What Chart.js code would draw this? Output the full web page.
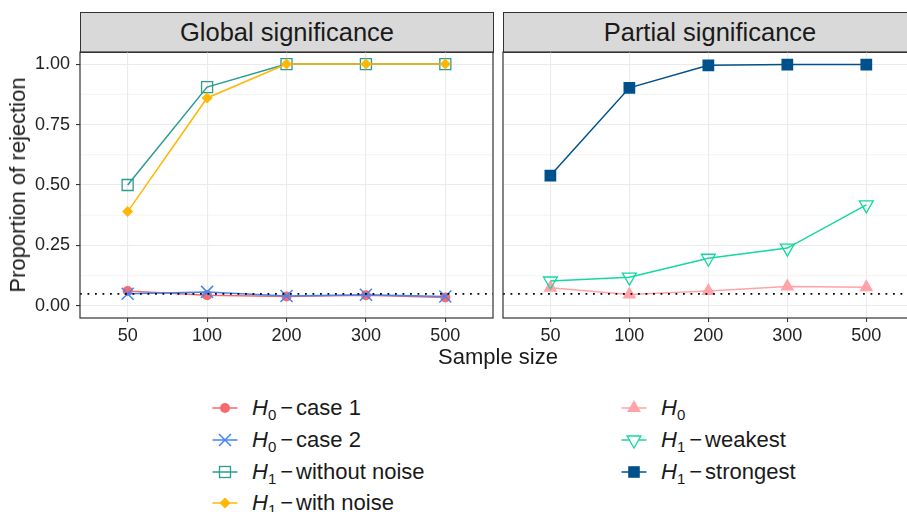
<!DOCTYPE html>
<html>
<head>
<meta charset="utf-8">
<script src="https://cdn.jsdelivr.net/npm/chart.js@4.4.0/dist/chart.umd.min.js"></script>
<style>
html, body { margin: 0; padding: 0; background: #fff; overflow: hidden; }
body { width: 907px; height: 512px; position: relative; font-family: "Liberation Sans", Arial, sans-serif; color: #1a1a1a; }
canvas { position: absolute; }
.strip { position: absolute; box-sizing: border-box; background: #d9d9d9; border: 1.2px solid #333; font-size: 25.5px; text-align: center; line-height: 38px; color: #1a1a1a; }
.ytitle { position: absolute; left: 18px; top: 185px; font-size: 22px; white-space: nowrap; transform: translate(-50%, -50%) rotate(-90deg); }
.xtitle { position: absolute; left: 498px; top: 344px; font-size: 22px; white-space: nowrap; transform: translateX(-50%); }
.item { position: absolute; height: 24px; display: flex; align-items: center; font-size: 22px; white-space: nowrap; }
.item svg { width: 30px; height: 24px; margin-right: 12px; flex: none; }
.item sub { font-size: 15px; vertical-align: -5px; line-height: 0; }
.item .minus { margin: 0 3px 0 4px; }
</style>
</head>
<body>
<div class="strip" style="left:80px; top:12px; width:414px; height:41px;">Global significance</div>
<div class="strip" style="left:503px; top:12px; width:414px; height:41px;">Partial significance</div>
<canvas id="globalChart" width="510" height="320" style="left:0; top:40px;"></canvas>
<canvas id="partialChart" width="430" height="320" style="left:493px; top:40px;"></canvas>
<div class="ytitle">Proportion of rejection</div>
<div class="xtitle">Sample size</div>
<div id="legend"></div>
<script>
// values
const sampleSizes = ['50', '100', '200', '300', '500'];
const globalCase1 = [0.062, 0.044, 0.039, 0.044, 0.035];
const globalCase2 = [0.050, 0.058, 0.041, 0.046, 0.039];
const globalNoNoise = [0.500, 0.905, 1.000, 1.000, 1.000];
const globalNoise = [0.390, 0.860, 1.000, 1.000, 1.000];
const partialH0 = [0.075, 0.047, 0.062, 0.080, 0.077];
const partialWeakest = [0.103, 0.119, 0.197, 0.239, 0.418];
const partialStrongest = [0.539, 0.902, 0.995, 0.998, 0.998];
const yTicks = [0, 0.25, 0.5, 0.75, 1];
const yTickLabels = ['0.00', '0.25', '0.50', '0.75', '1.00'];
const yMinorTicks = [0.125, 0.375, 0.625, 0.875];
const alphaLevel = 0.05;

// series look (kept apart from the values)
const series = {
    case1:     { sub: '0', text: 'case 1',        color: '#f8696b', style: 'circle' },
    case2:     { sub: '0', text: 'case 2',        color: '#4285f4', style: 'cross' },
    noNoise:   { sub: '1', text: 'without noise', color: '#2a9d8f', style: 'openSquare' },
    noise:     { sub: '1', text: 'with noise',    color: '#ffb703', style: 'diamond' },
    h0:        { sub: '0', text: '',              color: '#ffa3a9', style: 'triangle' },
    weakest:   { sub: '1', text: 'weakest',       color: '#13d8a0', style: 'openDown' },
    strongest: { sub: '1', text: 'strongest',     color: '#00508c', style: 'square' }
};

function pointOpts(s) {
    const c = s.color;
    switch (s.style) {
        case 'circle': return { pointStyle: 'circle', pointRadius: 5, pointBackgroundColor: c, pointBorderColor: c, pointBorderWidth: 0 };
        case 'cross': return { pointStyle: 'crossRot', pointRadius: 8.5, pointBorderColor: c, pointBorderWidth: 1.5 };
        case 'openSquare': return { pointStyle: 'rect', pointRadius: 7.8, pointBackgroundColor: 'rgba(0,0,0,0)', pointBorderColor: c, pointBorderWidth: 1.3 };
        case 'diamond': return { pointStyle: 'rectRot', pointRadius: 5.5, pointBackgroundColor: c, pointBorderColor: c, pointBorderWidth: 0 };
        case 'triangle': return { pointStyle: 'triangle', pointRadius: 8, pointBackgroundColor: c, pointBorderColor: c, pointBorderWidth: 0 };
        case 'openDown': return { pointStyle: 'triangle', pointRotation: 180, pointRadius: 8, pointBackgroundColor: 'rgba(0,0,0,0)', pointBorderColor: c, pointBorderWidth: 1.3 };
        case 'square': return { pointStyle: 'rect', pointRadius: 8.3, pointBackgroundColor: c, pointBorderColor: c, pointBorderWidth: 0 };
    }
}

function makeDataset(s, values, order) {
    return Object.assign({
        data: values.map((v, i) => ({ x: i + 1, y: v })),
        borderColor: s.color,
        borderWidth: 1.5,
        tension: 0,
        order: order
    }, pointOpts(s));
}

// minor grid, reference line and panel frame, like ggplot's theme_bw
const panelPlugin = {
    id: 'panel',
    beforeDatasetsDraw(chart) {
        const ctx = chart.ctx, a = chart.chartArea, y = chart.scales.y;
        ctx.save();
        ctx.strokeStyle = '#ebebeb';
        ctx.lineWidth = 0.6;
        yMinorTicks.forEach(v => {
            const py = y.getPixelForValue(v);
            ctx.beginPath(); ctx.moveTo(a.left, py); ctx.lineTo(a.right, py); ctx.stroke();
        });
        ctx.restore();
    },
    afterDatasetsDraw(chart) {
        const ctx = chart.ctx, a = chart.chartArea;
        const py = chart.scales.y.getPixelForValue(alphaLevel);
        ctx.save();
        ctx.strokeStyle = '#000';
        ctx.lineWidth = 1.8;
        ctx.setLineDash([1.8, 5.7]);
        ctx.beginPath(); ctx.moveTo(a.left, py); ctx.lineTo(a.right, py); ctx.stroke();
        ctx.restore();
    },
    afterDraw(chart) {
        const ctx = chart.ctx, a = chart.chartArea;
        ctx.save();
        ctx.strokeStyle = '#333';
        ctx.lineWidth = 1.2;
        ctx.strokeRect(a.left, a.top, a.right - a.left, a.bottom - a.top);
        ctx.restore();
    }
};

Chart.defaults.font.family = "'Liberation Sans', Arial, sans-serif";

function makeOptions(showY) {
    return {
        responsive: false,
        animation: false,
        events: [],
        layout: { padding: showY ? { left: 0, right: 17, top: 12, bottom: 0 } : { left: 10, right: 7, top: 12, bottom: 0 } },
        plugins: { legend: { display: false }, tooltip: { enabled: false } },
        scales: {
            x: {
                type: 'linear',
                min: 0.4,
                max: 5.6,
                bounds: 'data',
                afterBuildTicks: scale => { scale.ticks = sampleSizes.map((s, i) => ({ value: i + 1 })); },
                afterFit: scale => {
                    scale.height = 42;
                    scale.paddingLeft = 0;
                    scale.paddingRight = 0;
                },
                grid: { color: '#ebebeb', lineWidth: 1.1, drawTicks: true, tickLength: 4, tickColor: '#333', tickWidth: 1.1 },
                border: { display: false },
                ticks: {
                    autoSkip: false,
                    maxRotation: 0,
                    padding: 3,
                    color: '#222',
                    font: { size: 18 },
                    callback: v => sampleSizes[v - 1]
                }
            },
            y: {
                min: -0.05,
                max: 1.05,
                afterBuildTicks: scale => { scale.ticks = yTicks.map(v => ({ value: v })); },
                afterFit: scale => {
                    scale.width = showY ? 80 : 0;
                    scale.paddingTop = 0;
                    scale.paddingBottom = 0;
                },
                grid: { color: '#ebebeb', lineWidth: 1.1, drawTicks: showY, tickLength: 4, tickColor: '#333', tickWidth: 1.1 },
                border: { display: false },
                ticks: {
                    display: showY,
                    autoSkip: false,
                    padding: 6,
                    color: '#222',
                    font: { size: 18 },
                    callback: (v, i) => yTickLabels[i]
                }
            }
        }
    };
}

new Chart(document.getElementById('globalChart'), {
    type: 'line',
    data: {
        datasets: [
            makeDataset(series.case1, globalCase1, 4),
            makeDataset(series.case2, globalCase2, 3),
            makeDataset(series.noNoise, globalNoNoise, 2),
            makeDataset(series.noise, globalNoise, 1)
        ]
    },
    options: makeOptions(true),
    plugins: [panelPlugin]
});

new Chart(document.getElementById('partialChart'), {
    type: 'line',
    data: {
        datasets: [
            makeDataset(series.h0, partialH0, 3),
            makeDataset(series.weakest, partialWeakest, 2),
            makeDataset(series.strongest, partialStrongest, 1)
        ]
    },
    options: makeOptions(false),
    plugins: [panelPlugin]
});

// legend, two columns
function symbolSvg(s) {
    const c = s.color;
    let m = '';
    switch (s.style) {
        case 'circle': m = `<circle cx="15" cy="12" r="5" fill="${c}"/>`; break;
        case 'cross': m = `<path d="M9 6 L21 18 M21 6 L9 18" stroke="${c}" stroke-width="1.5"/>`; break;
        case 'openSquare': m = `<rect x="9.5" y="6.5" width="11" height="11" fill="none" stroke="${c}" stroke-width="1.3"/>`; break;
        case 'diamond': m = `<polygon points="15,6.5 20.5,12 15,17.5 9.5,12" fill="${c}"/>`; break;
        case 'triangle': m = `<polygon points="15,4 21.9,16 8.1,16" fill="${c}"/>`; break;
        case 'openDown': m = `<polygon points="15,20 21.9,8 8.1,8" fill="#fff" stroke="${c}" stroke-width="1.3"/>`; break;
        case 'square': m = `<rect x="9.2" y="6.2" width="11.6" height="11.6" fill="${c}"/>`; break;
    }
    return `<svg viewBox="0 0 30 24"><line x1="2.5" y1="12" x2="27.5" y2="12" stroke="${c}" stroke-width="1.5"/>${m}</svg>`;
}

const legendColumns = [
    { left: 210, keys: ['case1', 'case2', 'noNoise', 'noise'] },
    { left: 619, keys: ['h0', 'weakest', 'strongest'] }
];
const legendRows = [408, 440, 472, 503];
const legend = document.getElementById('legend');
legendColumns.forEach(col => {
    col.keys.forEach((k, r) => {
        const s = series[k];
        const div = document.createElement('div');
        div.className = 'item';
        div.style.left = col.left + 'px';
        div.style.top = (legendRows[r] - 12) + 'px';
        let label = `<i>H</i><sub>${s.sub}</sub>`;
        if (s.text) label += `<span class="minus">\u2212</span>${s.text}`;
        div.innerHTML = symbolSvg(s) + `<span>${label}</span>`;
        legend.appendChild(div);
    });
});
</script>
</body>
</html>
